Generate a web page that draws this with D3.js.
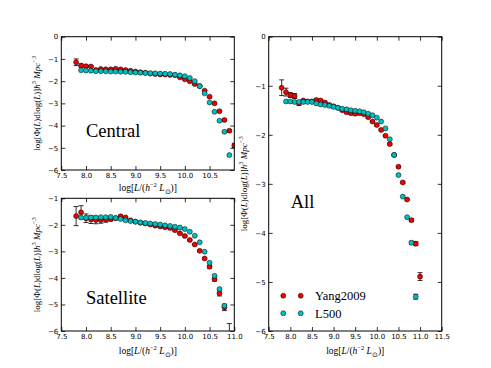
<!DOCTYPE html>
<html>
<head>
<meta charset="utf-8">
<script src="https://cdn.jsdelivr.net/npm/d3@7"></script>
<style>
  body { margin: 0; background: #fff; }
</style>
</head>
<body>
<script>
// Données
const xGrid = [7.8, 7.9, 8.0, 8.1, 8.2, 8.3, 8.4, 8.5, 8.6, 8.7, 8.8, 8.9, 9.0, 9.1, 9.2, 9.3, 9.4,
  9.5, 9.6, 9.7, 9.8, 9.9, 10.0, 10.1, 10.2, 10.3, 10.4, 10.5, 10.6, 10.7, 10.8, 10.9, 11.0];

const centralYang = [-1.15, -1.30, -1.33, -1.34, -1.50, -1.45, -1.47, -1.47, -1.44, -1.47, -1.50,
  -1.53, -1.57, -1.60, -1.62, -1.66, -1.68, -1.70, -1.70, -1.72, -1.73, -1.83, -1.92, -2.01, -2.13,
  -2.22, -2.43, -2.70, -3.00, -3.35, -3.75, -4.23, -4.90];
const centralYangErr = [0.15, 0.07, 0.05, 0.04, 0.02, 0.02, 0.02, 0.02, 0.02, 0.02, 0.02, 0.02, 0.02,
  0.02, 0.02, 0.02, 0.02, 0.02, 0.02, 0.02, 0.02, 0.02, 0.02, 0.02, 0.02, 0.02, 0.02, 0.02, 0.02,
  0.02, 0.03, 0.05, 0.10];
const centralL500 = [null, -1.51, -1.52, -1.53, -1.55, -1.55, -1.56, -1.57, -1.57, -1.58, -1.58,
  -1.60, -1.61, -1.62, -1.63, -1.64, -1.65, -1.66, -1.67, -1.68, -1.71, -1.74, -1.78, -1.86, -2.00,
  -2.23, -2.55, -2.96, -3.38, -3.78, -4.28, -5.33, null];

const satYang = [-1.67, -1.53, -1.75, -1.80, -1.82, -1.82, -1.80, -1.78, -1.75, -1.68, -1.72, -1.83,
  -1.88, -1.92, -1.95, -1.99, -2.03, -2.06, -2.09, -2.12, -2.20, -2.32, -2.42, -2.57, -2.74, -2.98,
  -3.27, -3.58, -4.05, -4.58, -5.11, -6.30, null];
const satYangErr = [0.36, 0.25, 0.16, 0.15, 0.14, 0.12, 0.10, 0.08, 0.06, 0.05, 0.04, 0.03, 0.03,
  0.03, 0.03, 0.03, 0.03, 0.03, 0.03, 0.03, 0.03, 0.03, 0.03, 0.03, 0.03, 0.03, 0.04, 0.05, 0.07,
  0.10, 0.12, 0.58, 0];
const satL500 = [null, -1.72, -1.73, -1.72, -1.72, -1.71, -1.71, -1.70, -1.74, -1.78, -1.83, -1.86,
  -1.88, -1.91, -1.93, -1.95, -1.97, -1.99, -2.02, -2.04, -2.07, -2.10, -2.16, -2.26, -2.41, -2.66,
  -3.01, -3.43, -3.92, -4.42, -5.05, null, null];

const allYang = [-1.04, -1.13, -1.19, -1.21, -1.36, -1.30, -1.32, -1.32, -1.29, -1.30, -1.34, -1.39,
  -1.42, -1.45, -1.50, -1.54, -1.56, -1.57, -1.56, -1.58, -1.64, -1.73, -1.80, -1.90, -2.02, -2.19,
  -2.41, -2.65, -2.97, -3.32, -3.74, -4.22, -4.89];
const allYangErr = [0.16, 0.08, 0.05, 0.05, 0.04, 0.02, 0.02, 0.02, 0.02, 0.02, 0.02, 0.02, 0.02,
  0.02, 0.02, 0.02, 0.02, 0.02, 0.02, 0.02, 0.02, 0.02, 0.02, 0.02, 0.02, 0.02, 0.02, 0.02, 0.02,
  0.02, 0.03, 0.04, 0.08];
const allL500 = [null, -1.32, -1.32, -1.33, -1.33, -1.33, -1.33, -1.33, -1.36, -1.38, -1.39, -1.41,
  -1.43, -1.45, -1.47, -1.48, -1.50, -1.51, -1.52, -1.54, -1.57, -1.60, -1.65, -1.73, -1.87, -2.09,
  -2.41, -2.82, -3.26, -3.68, -4.20, -5.30, null];
const allL500Err = [0, 0, 0, 0, 0, 0, 0, 0, 0, 0, 0, 0, 0, 0, 0, 0, 0, 0, 0, 0, 0, 0, 0, 0, 0, 0, 0,
  0, 0, 0, 0.03, 0.05, 0];

const xTicksShort = [7.5, 8.0, 8.5, 9.0, 9.5, 10.0, 10.5];
const xTicksMid = [7.5, 8.0, 8.5, 9.0, 9.5, 10.0, 10.5, 11.0];
const xTicksLong = [7.5, 8.0, 8.5, 9.0, 9.5, 10.0, 10.5, 11.0, 11.5];
const yTicksFull = [0, -1, -2, -3, -4, -5, -6];
const yTicksSat = [-1, -2, -3, -4, -5, -6];
const seriesNames = ['Yang2009', 'L500'];

// Paramètres de la visualisation
const width = 491;
const height = 368;
const red = '#f00000';
const cyan = '#00bfbf';
const mathFont = 'Liberation Serif, serif';
const tickFont = 'DejaVu Sans, sans-serif';

const svg = d3.select('body')
  .append('svg')
  .attr('width', width)
  .attr('height', height)

svg.append('rect').attr('width', width).attr('height', height).attr('fill', '#fff')

const fmt = d => d === 0 ? '0' : d3.format('.1f')(d).replace('-', '−')
const fmtY = d => d === 0 ? '0' : String(d).replace('-', '−')

function pts(ys, errs) {
  return xGrid.map((x, i) => ({ x: x, y: ys[i], e: errs ? errs[i] : 0 }))
    .filter(d => d.y !== null)
}

function drawPanel(p) {
  const x = d3.scaleLinear().domain(p.xDomain).range([p.left, p.right])
  const y = d3.scaleLinear().domain(p.yDomain).range([p.bottom, p.top])
  const g = svg.append('g')

  const clipId = 'clip-' + p.id
  svg.append('clipPath').attr('id', clipId)
    .append('rect')
    .attr('x', p.left).attr('y', p.top)
    .attr('width', p.right - p.left).attr('height', p.bottom - p.top)

  // axes (ticks vers l'intérieur sur les quatre côtés)
  const axes = [
    [d3.axisBottom(x).tickValues(p.xTicks).tickFormat(fmt), `translate(0, ${p.bottom})`],
    [d3.axisTop(x).tickValues(p.xTicks).tickFormat(''), `translate(0, ${p.top})`],
    [d3.axisLeft(y).tickValues(p.yTicks).tickFormat(fmtY), `translate(${p.left}, 0)`],
    [d3.axisRight(y).tickValues(p.yTicks).tickFormat(''), `translate(${p.right}, 0)`]
  ]
  axes.forEach(([ax, tr]) => {
    g.append('g')
      .attr('transform', tr)
      .call(ax.tickSizeInner(-4).tickSizeOuter(0).tickPadding(3))
      .call(a => a.select('.domain').remove())
      .call(a => a.selectAll('line').attr('stroke', '#000').attr('stroke-width', 0.8))
      .call(a => a.selectAll('text').attr('font-family', tickFont).attr('font-size', 7).attr('fill', '#000'))
  })

  const plot = g.append('g').attr('clip-path', `url(#${clipId})`)

  p.series.forEach(s => {
    const data = pts(s.values, s.errs)
    // barres d'erreur
    const eb = plot.append('g').attr('stroke', '#000').attr('stroke-width', 0.8)
    data.filter(d => d.e > 0).forEach(d => {
      eb.append('line').attr('x1', x(d.x)).attr('x2', x(d.x))
        .attr('y1', y(d.y - d.e)).attr('y2', y(d.y + d.e))
      ;[d.y - d.e, d.y + d.e].forEach(v => {
        eb.append('line').attr('x1', x(d.x) - 2.5).attr('x2', x(d.x) + 2.5)
          .attr('y1', y(v)).attr('y2', y(v))
      })
    })
    plot.append('g')
      .selectAll('circle')
      .data(data)
      .enter()
      .append('circle')
      .attr('cx', d => x(d.x))
      .attr('cy', d => y(d.y))
      .attr('r', 2.5)
      .attr('fill', s.color)
      .attr('stroke', '#000')
      .attr('stroke-width', 0.5)
  })

  // cadre
  g.append('rect')
    .attr('x', p.left).attr('y', p.top)
    .attr('width', p.right - p.left).attr('height', p.bottom - p.top)
    .attr('fill', 'none').attr('stroke', '#000').attr('stroke-width', 1)

  // titre du panneau
  g.append('text')
    .attr('x', p.titleX).attr('y', p.titleY)
    .attr('font-family', mathFont).attr('font-size', 18.5)
    .text(p.title)

  // étiquettes des axes
  xLabel(g, (p.left + p.right) / 2, p.xLabelY)
  yLabel(g, p.yLabelX, (p.top + p.bottom) / 2)
}

function addParts(t, parts) {
  parts.forEach(([txt, style]) => {
    const ts = t.append('tspan').text(txt)
    if (style === 'i') ts.attr('font-style', 'italic')
    if (style === 'sup') ts.attr('font-size', 6.5).attr('dy', -4)
    if (style === 'sub') ts.attr('font-size', 6.5).attr('dy', 2.5)
    if (style === 'back') ts.attr('dy', 4)
    if (style === 'backsub') ts.attr('dy', -2.5)
  })
}

function xLabel(g, cx, cy) {
  const t = g.append('text')
    .attr('x', cx).attr('y', cy)
    .attr('text-anchor', 'middle')
    .attr('font-family', mathFont).attr('font-size', 9.5)
  addParts(t, [['log[', ''], ['L', 'i'], ['/(', ''], ['h', 'i'], ['−2', 'sup'],
    [' ', 'back'], ['L', 'i'], ['⊙', 'sub'], [')]', 'backsub']])
}

function yLabel(g, cx, cy) {
  const t = g.append('text')
    .attr('transform', `translate(${cx}, ${cy}) rotate(-90)`)
    .attr('text-anchor', 'middle')
    .attr('font-family', mathFont).attr('font-size', 9)
  addParts(t, [['log[Φ(', ''], ['L', 'i'], [')dlog(', ''], ['L', 'i'], [')]', ''], ['h', 'i'],
    ['3', 'sup'], [' ', 'back'], ['Mpc', 'i'], ['−3', 'sup']])
}

drawPanel({
  id: 'central', left: 61.3, right: 234.3, top: 36.7, bottom: 170,
  xDomain: [7.5, 11.0], yDomain: [-6, 0], xTicks: xTicksShort, yTicks: yTicksFull,
  series: [{ values: centralYang, errs: centralYangErr, color: red },
           { values: centralL500, errs: null, color: cyan }],
  title: 'Central', titleX: 86, titleY: 136.5, xLabelY: 191, yLabelX: 40
})

drawPanel({
  id: 'sat', left: 61.3, right: 234.3, top: 198.3, bottom: 331,
  xDomain: [7.5, 11.0], yDomain: [-6, -1], xTicks: xTicksMid, yTicks: yTicksSat,
  series: [{ values: satYang, errs: satYangErr, color: red },
           { values: satL500, errs: null, color: cyan }],
  title: 'Satellite', titleX: 86, titleY: 304, xLabelY: 354, yLabelX: 40
})

drawPanel({
  id: 'all', left: 268.7, right: 441.7, top: 36.7, bottom: 331,
  xDomain: [7.5, 11.5], yDomain: [-6, 0], xTicks: xTicksLong, yTicks: yTicksFull,
  series: [{ values: allYang, errs: allYangErr, color: red },
           { values: allL500, errs: allL500Err, color: cyan }],
  title: 'All', titleX: 290.7, titleY: 208.3, xLabelY: 354, yLabelX: 247
})

// Légende
const legend = svg.append('g')
const legendY = d3.scaleBand().domain(seriesNames).range([287, 322])
const legendColor = d3.scaleOrdinal().domain(seriesNames).range([red, cyan])
seriesNames.forEach(name => {
  const cy = legendY(name) + legendY.bandwidth() / 2
  ;[283.3, 300.7].forEach(cx => {
    legend.append('circle').attr('cx', cx).attr('cy', cy).attr('r', 2.5)
      .attr('fill', legendColor(name)).attr('stroke', '#000').attr('stroke-width', 0.5)
  })
  legend.append('text').attr('x', 315).attr('y', cy + 4.3)
    .attr('font-family', mathFont).attr('font-size', 12.5)
    .text(name)
})
</script>
</body>
</html>
